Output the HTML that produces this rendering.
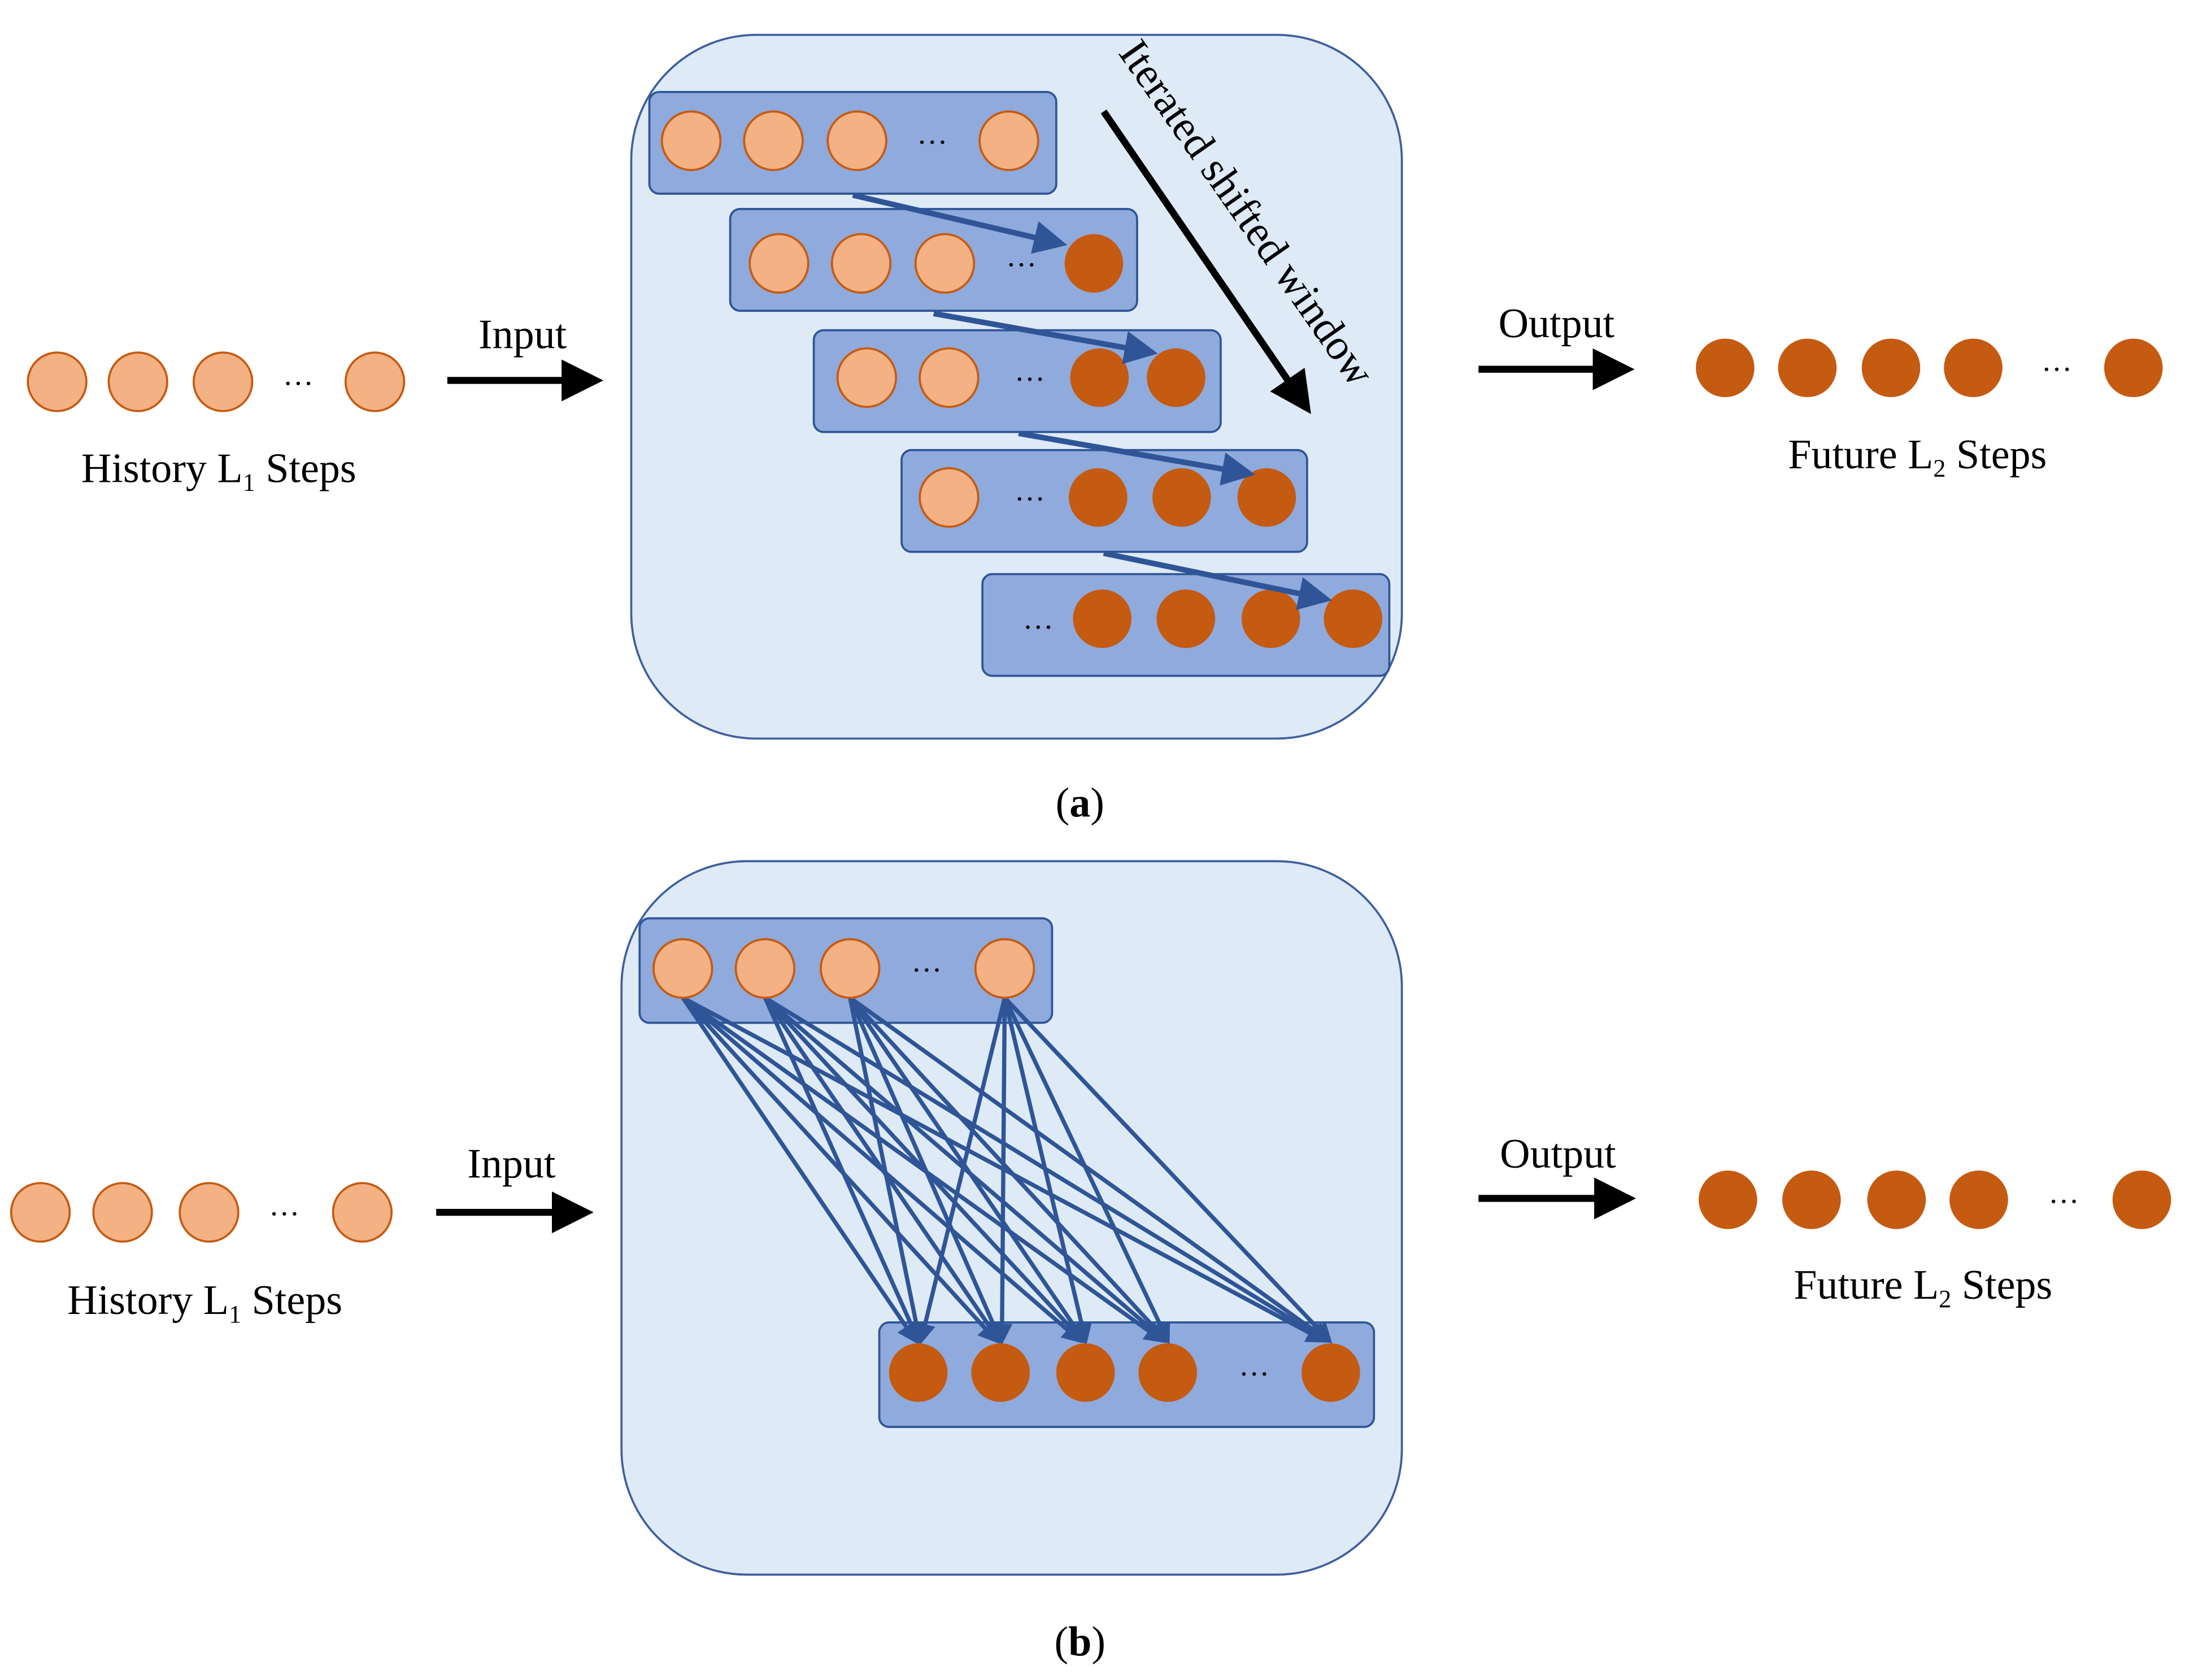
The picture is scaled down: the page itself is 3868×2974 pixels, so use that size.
<!DOCTYPE html>
<html><head><style>html,body{margin:0;padding:0;background:#fff}svg{display:block}</style></head><body>
<svg width="3868" height="2974" viewBox="0 0 1568 1205.6" preserveAspectRatio="none" xmlns="http://www.w3.org/2000/svg" font-family="Liberation Serif, serif" font-size="30">
<defs>
<marker id="bk" markerWidth="6" markerHeight="6" refX="5" refY="3" orient="auto" markerUnits="strokeWidth"><path d="M0,0 L6,3 L0,6 z" fill="#000"/></marker>
<marker id="bl" markerWidth="6" markerHeight="6" refX="5" refY="3" orient="auto" markerUnits="strokeWidth"><path d="M0,0 L6,3 L0,6 z" fill="#2f5597"/></marker>
<marker id="bl2" markerWidth="5" markerHeight="5" refX="4" refY="2.5" orient="auto" markerUnits="strokeWidth"><path d="M0,0 L5,2.5 L0,5 z" fill="#2f5597"/></marker>
</defs>
<rect x="453" y="25" width="553" height="505" rx="90" fill="#deeaf6" stroke="#3f5f9f" stroke-width="1.5"/>
<rect x="446" y="618" width="560" height="512" rx="90" fill="#deeaf6" stroke="#3f5f9f" stroke-width="1.5"/>
<g fill="#8faadc" stroke="#2f5597" stroke-width="1.5">
<rect x="466" y="66" width="292" height="73" rx="7"/>
<rect x="524" y="150" width="292" height="73" rx="7"/>
<rect x="584" y="237" width="292" height="73" rx="7"/>
<rect x="647" y="323" width="291" height="73" rx="7"/>
<rect x="705" y="412" width="292" height="73" rx="7"/>
<rect x="459" y="659" width="296" height="75" rx="7"/>
<rect x="631" y="949" width="355" height="75" rx="7"/>
</g>
<g stroke="#2f5597" stroke-width="3" marker-end="url(#bl2)">
<line x1="490" y1="716" x2="657" y2="962"/><line x1="490" y1="716" x2="715" y2="962"/><line x1="490" y1="716" x2="775" y2="962"/><line x1="490" y1="716" x2="834" y2="962"/><line x1="490" y1="716" x2="950" y2="962"/>
<line x1="549" y1="716" x2="659" y2="962"/><line x1="549" y1="716" x2="717" y2="962"/><line x1="549" y1="716" x2="777" y2="962"/><line x1="549" y1="716" x2="836" y2="962"/><line x1="549" y1="716" x2="952" y2="962"/>
<line x1="610" y1="716" x2="660" y2="962"/><line x1="610" y1="716" x2="718" y2="962"/><line x1="610" y1="716" x2="778" y2="962"/><line x1="610" y1="716" x2="837" y2="962"/><line x1="610" y1="716" x2="953" y2="962"/>
<line x1="721" y1="716" x2="661" y2="962"/><line x1="721" y1="716" x2="719" y2="962"/><line x1="721" y1="716" x2="779" y2="962"/><line x1="721" y1="716" x2="838" y2="962"/><line x1="721" y1="716" x2="954" y2="962"/>
</g>
<g fill="#f4b183" stroke="#c55a11" stroke-width="1.5">
<circle cx="496" cy="101" r="21"/><circle cx="555" cy="101" r="21"/><circle cx="615" cy="101" r="21"/><circle cx="724" cy="101" r="21"/>
<circle cx="559" cy="189" r="21"/><circle cx="618" cy="189" r="21"/><circle cx="678" cy="189" r="21"/>
<circle cx="622" cy="271" r="21"/><circle cx="681" cy="271" r="21"/>
<circle cx="681" cy="357" r="21"/>
<circle cx="41" cy="274" r="21"/><circle cx="99" cy="274" r="21"/><circle cx="160" cy="274" r="21"/><circle cx="269" cy="274" r="21"/>
<circle cx="490" cy="695" r="21"/><circle cx="549" cy="695" r="21"/><circle cx="610" cy="695" r="21"/><circle cx="721" cy="695" r="21"/>
<circle cx="29" cy="870" r="21"/><circle cx="88" cy="870" r="21"/><circle cx="150" cy="870" r="21"/><circle cx="260" cy="870" r="21"/>
</g>
<g fill="#c55a11">
<circle cx="785" cy="189" r="21"/>
<circle cx="789" cy="271" r="21"/><circle cx="844" cy="271" r="21"/>
<circle cx="788" cy="357" r="21"/><circle cx="848" cy="357" r="21"/><circle cx="909" cy="357" r="21"/>
<circle cx="791" cy="444" r="21"/><circle cx="851" cy="444" r="21"/><circle cx="912" cy="444" r="21"/><circle cx="971" cy="444" r="21"/>
<circle cx="1238" cy="264" r="21"/><circle cx="1297" cy="264" r="21"/><circle cx="1357" cy="264" r="21"/><circle cx="1416" cy="264" r="21"/><circle cx="1531" cy="264" r="21"/>
<circle cx="659" cy="985" r="21"/><circle cx="718" cy="985" r="21"/><circle cx="779" cy="985" r="21"/><circle cx="838" cy="985" r="21"/><circle cx="955" cy="985" r="21"/>
<circle cx="1240" cy="861" r="21"/><circle cx="1300" cy="861" r="21"/><circle cx="1361" cy="861" r="21"/><circle cx="1420" cy="861" r="21"/><circle cx="1537" cy="861" r="21"/>
</g>
<g font-size="22" text-anchor="middle">
<text x="669" y="103">…</text><text x="733" y="191">…</text><text x="739" y="273">…</text><text x="739" y="359">…</text><text x="745" y="451">…</text>
<text x="214" y="276">…</text><text x="1476" y="266">…</text>
<text x="665" y="697">…</text><text x="900" y="987">…</text><text x="204" y="872">…</text><text x="1481" y="863">…</text>
</g>
<g stroke="#2f5597" stroke-width="4" marker-end="url(#bl)">
<line x1="612" y1="140" x2="762" y2="175"/>
<line x1="670" y1="225" x2="827" y2="253"/>
<line x1="731" y1="311" x2="897" y2="340"/>
<line x1="792" y1="397" x2="952" y2="430"/>
</g>
<line x1="792" y1="80" x2="938" y2="293" stroke="#000" stroke-width="5" marker-end="url(#bk)"/>
<text transform="translate(802,38) rotate(55)" font-size="31">Iterated shifted window</text>
<g stroke="#000" stroke-width="5" marker-end="url(#bk)">
<line x1="321" y1="273" x2="428" y2="273"/>
<line x1="1061" y1="265" x2="1168" y2="265"/>
<line x1="313" y1="870" x2="421" y2="870"/>
<line x1="1061" y1="860" x2="1169" y2="860"/>
</g>
<g text-anchor="middle">
<text x="375" y="250">Input</text>
<text x="1117" y="242">Output</text>
<text x="157" y="346">History L<tspan font-size="18" dy="6">1</tspan><tspan dy="-6"> Steps</tspan></text>
<text x="1376" y="336">Future L<tspan font-size="18" dy="6">2</tspan><tspan dy="-6"> Steps</tspan></text>
<text x="775" y="586">(<tspan font-weight="bold">a</tspan>)</text>
<text x="367" y="845">Input</text>
<text x="1118" y="838">Output</text>
<text x="147" y="943">History L<tspan font-size="18" dy="6">1</tspan><tspan dy="-6"> Steps</tspan></text>
<text x="1380" y="932">Future L<tspan font-size="18" dy="6">2</tspan><tspan dy="-6"> Steps</tspan></text>
<text x="775" y="1188">(<tspan font-weight="bold">b</tspan>)</text>
</g>
</svg>
</body></html>
